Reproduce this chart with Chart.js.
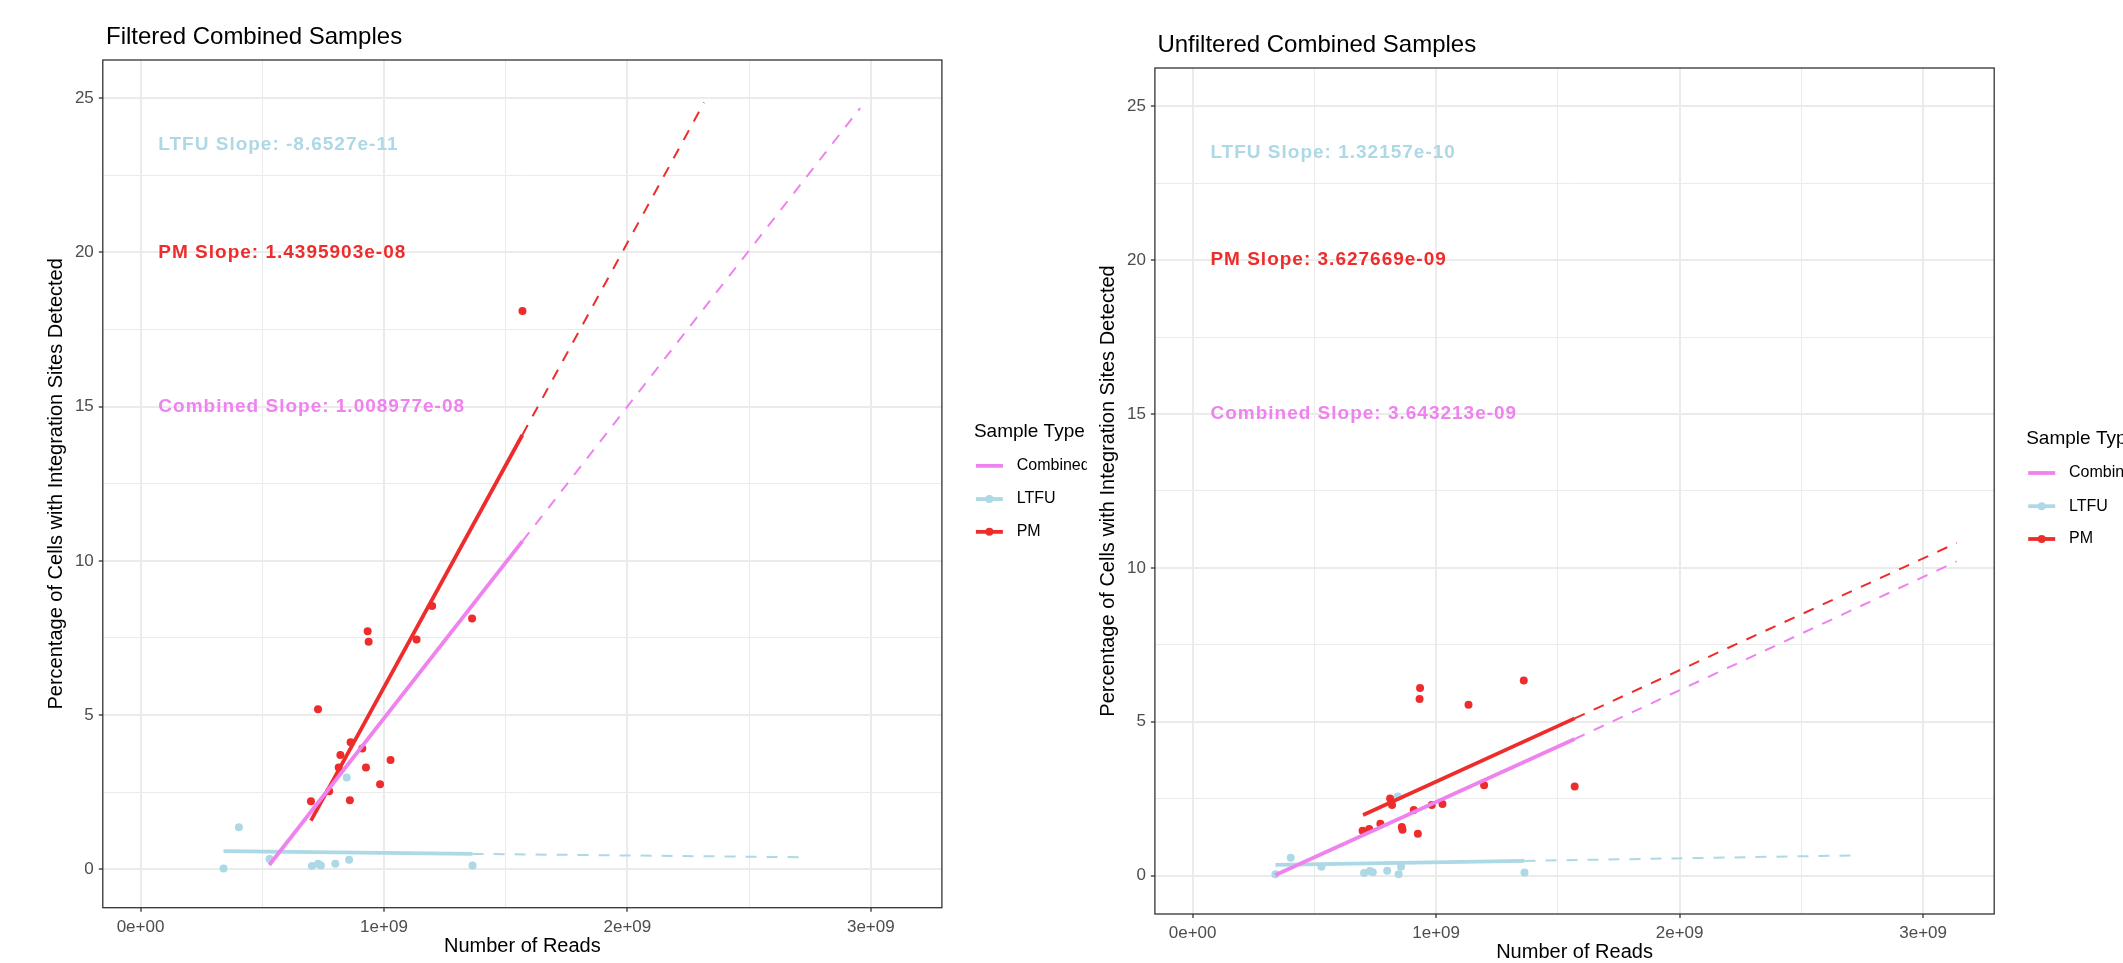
<!DOCTYPE html>
<html>
<head>
<meta charset="utf-8">
<script src="https://cdn.jsdelivr.net/npm/chart.js@4.4.1/dist/chart.umd.min.js"></script>
<style>
  html, body { margin: 0; padding: 0; background: #fff; }
  body { width: 2123px; height: 963px; position: relative; overflow: hidden; }
  canvas { position: absolute; top: 0; }
  #filtChart { left: 0; }
  #unfChart { left: 1090px; }
</style>
</head>
<body>
<canvas id="filtChart" width="1087" height="963"></canvas>
<canvas id="unfChart" width="1033" height="963"></canvas>
<script>
// --- axes ---
const xMajorTicks = [0, 1e9, 2e9, 3e9];
const xTickLabels = ['0e+00', '1e+09', '2e+09', '3e+09'];
const xMinorTicks = [0.5e9, 1.5e9, 2.5e9];
const yMajorTicks = [0, 5, 10, 15, 20, 25];
const yMinorTicks = [2.5, 7.5, 12.5, 17.5, 22.5];
const legendLabels = ['Combined', 'LTFU', 'PM'];

// --- Filtered samples ---
const filtPmReads = [1.198e9, 1.362e9, 0.933e9, 0.937e9, 1.134e9, 0.729e9, 0.863e9, 0.911e9, 0.821e9,
                     1.027e9, 0.814e9, 0.926e9, 0.984e9, 0.775e9, 0.700e9, 0.860e9, 1.569e9];
const filtPmPct = [8.54, 8.13, 7.72, 7.38, 7.45, 5.19, 4.12, 3.92, 3.71,
                   3.54, 3.30, 3.30, 2.76, 2.53, 2.21, 2.24, 18.10];
const filtLtfuReads = [0.341e9, 0.404e9, 0.530e9, 0.704e9, 0.729e9, 0.741e9, 0.800e9, 0.847e9, 0.857e9, 1.364e9];
const filtLtfuPct = [0.03, 1.36, 0.33, 0.11, 0.18, 0.12, 0.18, 2.98, 0.31, 0.12];
// fitted lines: start of fit, end of observed range, end of extrapolation
const filtPmFitReads = [0.700e9, 1.569e9, 2.315e9];
const filtPmFitPct = [1.58, 14.09, 24.86];
const filtCombFitReads = [0.529e9, 1.569e9, 2.956e9];
const filtCombFitPct = [0.14, 10.64, 24.68];
const filtLtfuFitReads = [0.341e9, 1.364e9, 2.722e9];
const filtLtfuFitPct = [0.59, 0.50, 0.39];
const filtSlopeText = ['LTFU Slope: -8.6527e-11', 'PM Slope: 1.4395903e-08', 'Combined Slope: 1.008977e-08'];

// --- Unfiltered samples ---
const unfPmReads = [1.360e9, 0.934e9, 0.932e9, 1.133e9, 1.197e9, 1.569e9, 0.811e9, 0.819e9, 0.982e9,
                    1.026e9, 0.908e9, 0.771e9, 0.698e9, 0.725e9, 0.859e9, 0.862e9, 0.925e9];
const unfPmPct = [6.34, 6.10, 5.74, 5.55, 2.94, 2.90, 2.51, 2.30, 2.30,
                  2.33, 2.13, 1.69, 1.46, 1.52, 1.58, 1.49, 1.36];
const unfLtfuReads = [0.340e9, 0.403e9, 0.529e9, 0.704e9, 0.728e9, 0.740e9, 0.799e9, 0.843e9, 0.846e9, 0.856e9, 1.363e9];
const unfLtfuPct = [0.05, 0.58, 0.29, 0.09, 0.15, 0.11, 0.16, 2.57, 0.05, 0.29, 0.10];
const unfPmFitReads = [0.700e9, 1.569e9, 3.138e9];
const unfPmFitPct = [1.97, 5.11, 10.81];
const unfCombFitReads = [0.340e9, 1.569e9, 3.138e9];
const unfCombFitPct = [0.02, 4.44, 10.21];
const unfLtfuFitReads = [0.340e9, 1.363e9, 2.726e9];
const unfLtfuFitPct = [0.35, 0.48, 0.66];
const unfSlopeText = ['LTFU Slope: 1.32157e-10', 'PM Slope: 3.627669e-09', 'Combined Slope: 3.643213e-09'];

// annotation anchors (LTFU, PM, Combined)
const slopeTextReads = 0.073e9;
const slopeTextPct = [23.5, 20, 15];

const FONT = "'Liberation Sans', Arial, Helvetica, sans-serif";
const COL_LTFU = '#ADD8E6';
const COL_PM = '#EE2C2C';
const COL_COMB = '#EE82EE';
const X_MIN = -0.155e9, X_MAX = 3.292e9;
const Y_MIN = -1.245, Y_MAX = 26.24;

const toPts = (xs, ys) => xs.map((x, i) => ({ x: x, y: ys[i] }));

function fitSets(xs, ys, color, order) {
    return [{
        data: toPts(xs.slice(0, 2), ys.slice(0, 2)),
        showLine: true, borderColor: color, borderWidth: 3.8,
        pointRadius: 0, order: order
    }, {
        data: toPts(xs.slice(1), ys.slice(1)),
        showLine: true, borderColor: color, borderWidth: 2, borderDash: [11, 10],
        pointRadius: 0, order: order + 1
    }];
}

function pointSet(xs, ys, color, order) {
    return {
        data: toPts(xs, ys),
        showLine: false, pointRadius: 4, pointHoverRadius: 4,
        pointBackgroundColor: color, pointBorderColor: color, pointBorderWidth: 0,
        order: order
    };
}

// Dibuja borde, título, textos de pendiente, títulos de ejes y leyenda
const panelDecor = {
    id: 'panelDecor',
    afterDraw(chart, args, opts) {
        const { ctx, chartArea: a } = chart;
        const xs = chart.scales.x, ys = chart.scales.y;
        const cy = (a.top + a.bottom) / 2;
        ctx.save();

        ctx.strokeStyle = '#333333';
        ctx.lineWidth = 1.3;
        ctx.strokeRect(a.left, a.top, a.right - a.left, a.bottom - a.top);

        ctx.fillStyle = '#000';
        ctx.font = `24px ${FONT}`;
        ctx.textAlign = 'left';
        ctx.textBaseline = 'alphabetic';
        ctx.fillText(opts.title, a.left + opts.titleDx, a.top - 15.7);

        // pendientes
        const cols = [COL_LTFU, COL_PM, COL_COMB];
        ctx.font = `bold 19px ${FONT}`;
        ctx.letterSpacing = '1px';
        ctx.textBaseline = 'middle';
        opts.slopes.forEach((t, i) => {
            ctx.fillStyle = cols[i];
            ctx.fillText(t, xs.getPixelForValue(slopeTextReads), ys.getPixelForValue(slopeTextPct[i]));
        });
        ctx.letterSpacing = '0px';

        // títulos de ejes
        ctx.fillStyle = '#000';
        ctx.font = `20px ${FONT}`;
        ctx.textAlign = 'center';
        ctx.fillText('Number of Reads', (a.left + a.right) / 2, a.bottom + 38.8);
        ctx.save();
        ctx.translate(a.left - 46, cy);
        ctx.rotate(-Math.PI / 2);
        ctx.fillText('Percentage of Cells with Integration Sites Detected', 0, 0);
        ctx.restore();

        // leyenda
        ctx.textAlign = 'left';
        ctx.textBaseline = 'alphabetic';
        ctx.font = `19px ${FONT}`;
        ctx.fillText('Sample Type', a.right + 32, cy - 46.6);
        const rowY = [cy - 18, cy + 15.2, cy + 48];
        const keyCols = [COL_COMB, COL_LTFU, COL_PM];
        ctx.font = `16px ${FONT}`;
        ctx.textBaseline = 'middle';
        legendLabels.forEach((lab, i) => {
            const y = rowY[i];
            ctx.strokeStyle = keyCols[i];
            ctx.lineWidth = 3.8;
            ctx.beginPath();
            ctx.moveTo(a.right + 34, y);
            ctx.lineTo(a.right + 61, y);
            ctx.stroke();
            if (i > 0) {
                ctx.fillStyle = keyCols[i];
                ctx.beginPath();
                ctx.arc(a.right + 47.5, y, 4, 0, Math.PI * 2);
                ctx.fill();
            }
            ctx.fillStyle = '#000';
            ctx.fillText(lab, a.right + 74.8, y);
        });
        ctx.restore();
    }
};

function makeChart(id, geom, sets, title, titleDx, slopes) {
    const canvas = document.getElementById(id);
    const W = canvas.width, H = canvas.height;
    const isMajorX = c => c.tick && xMajorTicks.includes(c.tick.value);
    const isMajorY = c => c.tick && yMajorTicks.includes(c.tick.value);
    return new Chart(canvas.getContext('2d'), {
        type: 'scatter',
        data: { datasets: sets },
        options: {
            responsive: false,
            animation: false,
            devicePixelRatio: 1,
            layout: { padding: { left: 0, top: geom.top, right: W - geom.right, bottom: 0 } },
            scales: {
                x: {
                    type: 'linear', min: X_MIN, max: X_MAX,
                    afterBuildTicks: s => {
                        s.ticks = xMajorTicks.concat(xMinorTicks).sort((p, q) => p - q).map(v => ({ value: v }));
                    },
                    afterFit: s => { s.height = H - geom.bottom; },
                    ticks: {
                        autoSkip: false, maxRotation: 0, padding: 5,
                        color: '#4D4D4D', font: { family: FONT, size: 17 },
                        callback: v => {
                            const i = xMajorTicks.indexOf(v);
                            return i >= 0 ? xTickLabels[i] : '';
                        }
                    },
                    grid: {
                        color: '#EBEBEB',
                        lineWidth: c => isMajorX(c) ? 2 : 1,
                        tickColor: c => isMajorX(c) ? '#333333' : 'rgba(0,0,0,0)',
                        tickLength: 4, tickWidth: 1.3
                    },
                    border: { display: false }
                },
                y: {
                    type: 'linear', min: Y_MIN, max: Y_MAX,
                    afterBuildTicks: s => {
                        s.ticks = yMajorTicks.concat(yMinorTicks).sort((p, q) => p - q).map(v => ({ value: v }));
                    },
                    afterFit: s => { s.width = geom.left; },
                    ticks: {
                        autoSkip: false, padding: 5,
                        color: '#4D4D4D', font: { family: FONT, size: 17 },
                        callback: v => yMajorTicks.includes(v) ? String(v) : ''
                    },
                    grid: {
                        color: '#EBEBEB',
                        lineWidth: c => isMajorY(c) ? 2 : 1,
                        tickColor: c => isMajorY(c) ? '#333333' : 'rgba(0,0,0,0)',
                        tickLength: 4, tickWidth: 1.3
                    },
                    border: { display: false }
                }
            },
            plugins: {
                legend: { display: false },
                tooltip: { enabled: false },
                panelDecor: { title: title, titleDx: titleDx, slopes: slopes }
            }
        },
        plugins: [panelDecor]
    });
}

makeChart('filtChart', { left: 102.8, right: 941.9, top: 60, bottom: 907.7 },
    [].concat(
        fitSets(filtCombFitReads, filtCombFitPct, COL_COMB, 1),
        fitSets(filtPmFitReads, filtPmFitPct, COL_PM, 3),
        fitSets(filtLtfuFitReads, filtLtfuFitPct, COL_LTFU, 5),
        [pointSet(filtPmReads, filtPmPct, COL_PM, 7),
         pointSet(filtLtfuReads, filtLtfuPct, COL_LTFU, 8)]
    ),
    'Filtered Combined Samples', 3.2, filtSlopeText);

makeChart('unfChart', { left: 64.9, right: 904.2, top: 68, bottom: 914 },
    [].concat(
        fitSets(unfCombFitReads, unfCombFitPct, COL_COMB, 1),
        fitSets(unfPmFitReads, unfPmFitPct, COL_PM, 3),
        fitSets(unfLtfuFitReads, unfLtfuFitPct, COL_LTFU, 5),
        [pointSet(unfPmReads, unfPmPct, COL_PM, 7),
         pointSet(unfLtfuReads, unfLtfuPct, COL_LTFU, 8)]
    ),
    'Unfiltered Combined Samples', 2.5, unfSlopeText);
</script>
</body>
</html>
